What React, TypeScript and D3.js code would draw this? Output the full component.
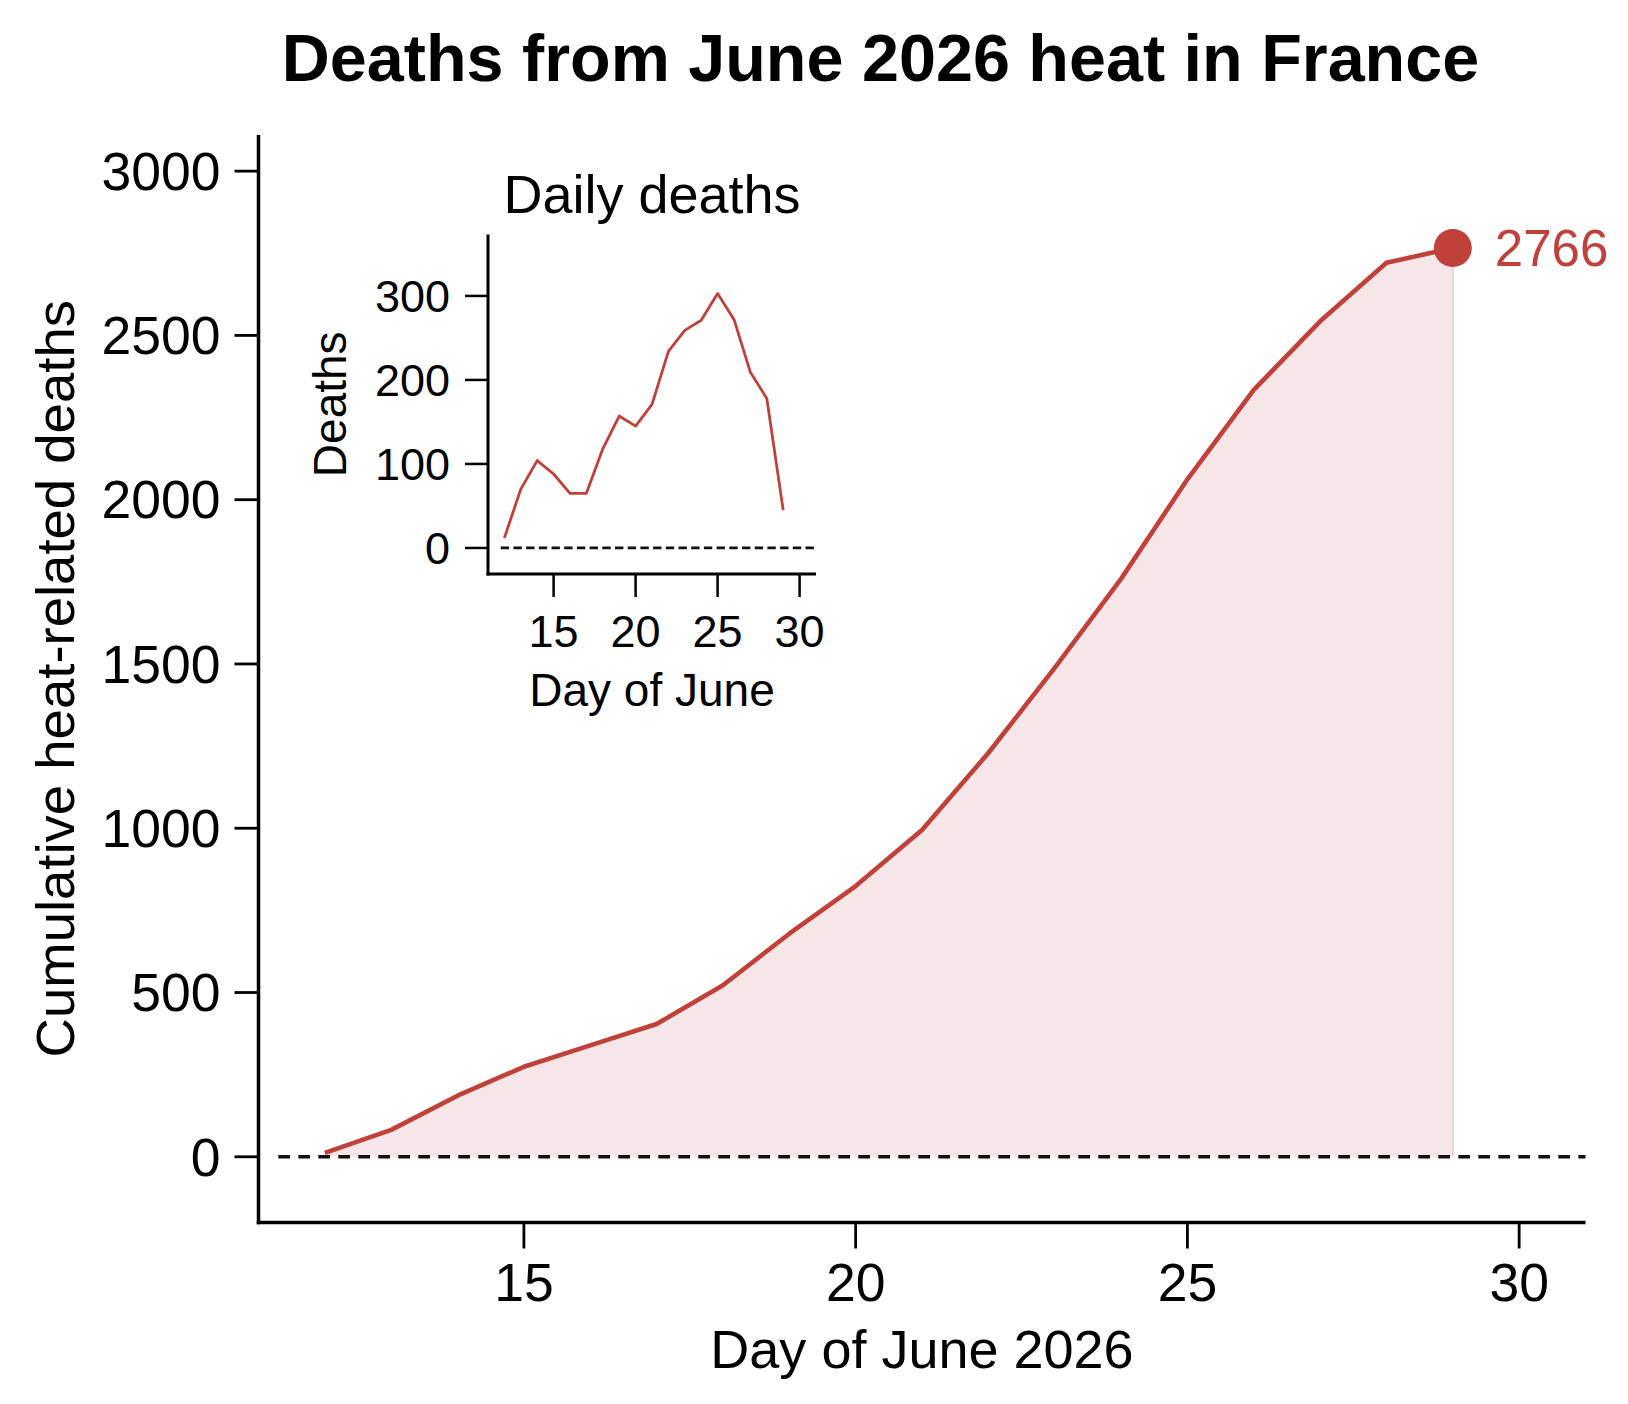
import React from 'react'
import * as d3 from 'd3'

// days of June with data
const days = [12, 13, 14, 15, 16, 17, 18, 19, 20, 21, 22, 23, 24, 25, 26, 27, 28, 29]
// deaths per day
const dailyDeaths = [12, 70, 104, 88, 65, 65, 118, 157, 145, 171, 234, 259, 271, 303, 272, 209, 178, 45]
// running total
const cumulativeDeaths = [12, 82, 186, 274, 339, 404, 522, 679, 824, 995, 1229, 1488, 1759, 2062, 2334, 2543, 2721, 2766]

const mainYTicks = [0, 500, 1000, 1500, 2000, 2500, 3000]
const mainXTicks = [15, 20, 25, 30]
const insetYTicks = [0, 100, 200, 300]
const insetXTicks = [15, 20, 25, 30]

const W = 1628
const H = 1404
const RED = '#c0413a'
const FONT = '"Liberation Sans", Arial, Helvetica, sans-serif'

const App = () => {
  // main panel
  const x = d3.scaleLinear().domain([11, 31]).range([258.5, 1585.5])
  const y = d3.scaleLinear().domain([-200, 3110]).range([1222.5, 135])

  const pts = days.map((d, i) => ({ day: d, value: cumulativeDeaths[i] }))
  const line = d3.line<{ day: number; value: number }>()
    .x((d) => x(d.day))
    .y((d) => y(d.value))
  const area = d3.area<{ day: number; value: number }>()
    .x((d) => x(d.day))
    .y0(y(0))
    .y1((d) => y(d.value))

  // inset panel
  const ix = d3.scaleLinear().domain([11, 31]).range([488, 816])
  const iy = d3.scaleLinear().domain([-31, 373]).range([574, 234.6])
  const dailyPts = days.map((d, i) => ({ day: d, value: dailyDeaths[i] }))
  const insetLine = d3.line<{ day: number; value: number }>()
    .x((d) => ix(d.day))
    .y((d) => iy(d.value))

  const last = pts[pts.length - 1]
  const [x0, x1] = x.range()
  const [yb, yt] = y.range()
  const [ix0, ix1] = ix.range()
  const [iyb, iyt] = iy.range()

  return (
    <svg
      width={W}
      height={H}
      style={{ position: 'absolute', left: 0, top: 0, background: '#fff' }}
      fontFamily={FONT}
    >
      <rect width={W} height={H} fill="#fff" />
      <text x={880.5} y={81} textAnchor="middle" fontSize={66.5} fontWeight="bold">
        Deaths from June 2026 heat in France
      </text>

      {/* cumulative series */}
      <path d={area(pts) ?? ''} fill="#f6e6e7" />
      <line x1={x(last.day)} x2={x(last.day)} y1={y(last.value)} y2={y(0)} stroke="#f3cfd2" strokeWidth={2} />
      <line x1={x0 + 19.8} x2={x1} y1={y(0)} y2={y(0)} stroke="#111" strokeWidth={3.5} strokeDasharray="11.7,8.3" />
      <path d={line(pts) ?? ''} fill="none" stroke={RED} strokeWidth={4.6} strokeLinejoin="round" />
      <circle cx={x(last.day)} cy={y(last.value)} r={19} fill={RED} />
      <text x={x(last.day) + 42} y={y(last.value)} dy="0.35em" fontSize={51} fill={RED}>
        {last.value}
      </text>

      {/* main axes */}
      <line x1={x0} x2={x0} y1={yt} y2={yb + 1.75} stroke="#000" strokeWidth={3.5} />
      <line x1={x0 - 1.75} x2={x1} y1={yb} y2={yb} stroke="#000" strokeWidth={3.5} />
      {mainYTicks.map((t) => (
        <g key={t} transform={`translate(0,${y(t)})`}>
          <line x1={x0 - 24} x2={x0} stroke="#000" strokeWidth={2.8} />
          <text x={x0 - 38} dy="0.35em" textAnchor="end" fontSize={53.5}>{t}</text>
        </g>
      ))}
      {mainXTicks.map((t) => (
        <g key={t} transform={`translate(${x(t)},0)`}>
          <line y1={yb} y2={yb + 26} stroke="#000" strokeWidth={2.8} />
          <text y={1301} textAnchor="middle" fontSize={53.5}>{t}</text>
        </g>
      ))}
      <text x={(x0 + x1) / 2} y={1368} textAnchor="middle" fontSize={54}>Day of June 2026</text>
      <text
        transform={`translate(74,${(yt + yb) / 2}) rotate(-90)`}
        textAnchor="middle"
        fontSize={54.5}
      >
        Cumulative heat-related deaths
      </text>

      {/* inset: daily deaths */}
      <text x={(ix0 + ix1) / 2} y={213} textAnchor="middle" fontSize={54}>Daily deaths</text>
      <line x1={ix0 + 12.7} x2={ix1} y1={iy(0)} y2={iy(0)} stroke="#111" strokeWidth={2.7} strokeDasharray="8.4,4.3" />
      <path d={insetLine(dailyPts) ?? ''} fill="none" stroke={RED} strokeWidth={2.8} strokeLinejoin="round" />
      <line x1={ix0} x2={ix0} y1={iyt} y2={iyb + 1.5} stroke="#000" strokeWidth={3} />
      <line x1={ix0 - 1.5} x2={ix1} y1={iyb} y2={iyb} stroke="#000" strokeWidth={3} />
      {insetYTicks.map((t) => (
        <g key={t} transform={`translate(0,${iy(t)})`}>
          <line x1={ix0 - 23} x2={ix0} stroke="#000" strokeWidth={2.5} />
          <text x={ix0 - 38} dy="0.35em" textAnchor="end" fontSize={45}>{t}</text>
        </g>
      ))}
      {insetXTicks.map((t) => (
        <g key={t} transform={`translate(${ix(t)},0)`}>
          <line y1={iyb} y2={iyb + 23} stroke="#000" strokeWidth={2.5} />
          <text y={647} textAnchor="middle" fontSize={45}>{t}</text>
        </g>
      ))}
      <text x={(ix0 + ix1) / 2} y={706} textAnchor="middle" fontSize={46}>Day of June</text>
      <text
        transform={`translate(346,${(iyt + iyb) / 2}) rotate(-90)`}
        textAnchor="middle"
        fontSize={46}
      >
        Deaths
      </text>
    </svg>
  )
}

export default App
